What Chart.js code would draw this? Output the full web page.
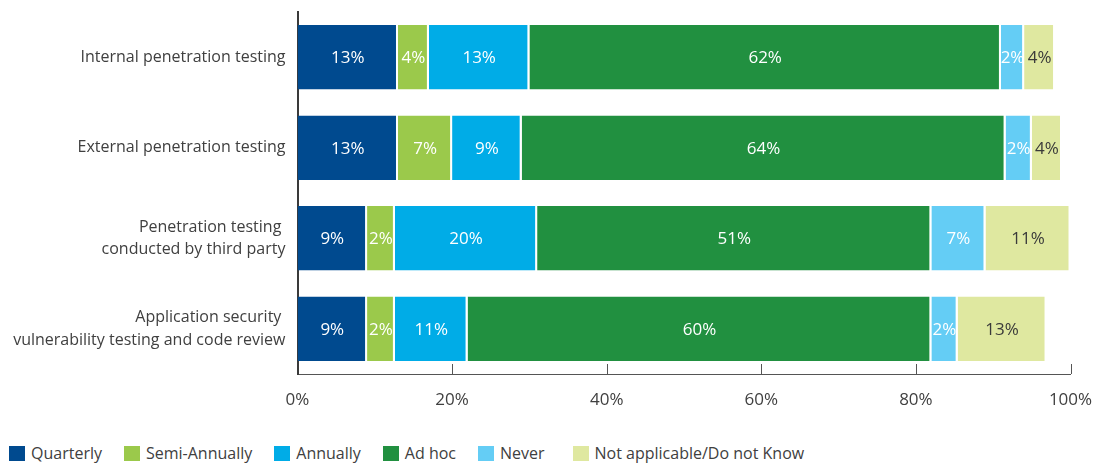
<!DOCTYPE html>
<html>
<head>
<meta charset="utf-8">
<script src="https://cdn.jsdelivr.net/npm/chart.js@4.4.1/dist/chart.umd.min.js"></script>
<style>
    html, body { margin: 0; padding: 0; background: #fff; }
    #wrap { position: relative; width: 1094px; height: 430px; }
    #legend {
        display: flex; align-items: center; gap: 22px;
        padding-left: 9px; margin-top: 12px;
        font: 16px "Open Sans", sans-serif; color: #404040;
    }
    #legend span.item { display: flex; align-items: center; }
    #legend span.item:last-child { margin-left: 6px; }
    #legend i { display: inline-block; width: 16px; height: 15px; margin-right: 6px; }
</style>
</head>
<body>
<div id="wrap"><canvas id="chart"></canvas></div>
<div id="legend"></div>
<script>
// ── Données ──────────────────────────────────────────────
const categories = [
    'Internal penetration testing',
    'External penetration testing',
    ['Penetration testing ', 'conducted by third party'],
    ['Application security ', 'vulnerability testing and code review']
];
const seriesNames = ['Quarterly', 'Semi-Annually', 'Annually', 'Ad hoc', 'Never', 'Not applicable/Do not Know'];
const seriesColors = ['#004a8f', '#9bc94b', '#00ace7', '#219040', '#64cdf5', '#dfe8a0'];

// bar lengths as drawn
const quarterly     = [13, 13, 9, 9];
const semiAnnually  = [4, 7, 3.6, 3.6];
const annually      = [13, 9, 18.4, 9.4];
const adHoc         = [61, 62.6, 51, 60];
const never         = [3, 3.4, 7, 3.4];
const notApplicable = [4, 3.9, 11, 11.5];

// percentages printed in the bars
const quarterlyPct     = [13, 13, 9, 9];
const semiAnnuallyPct  = [4, 7, 2, 2];
const annuallyPct      = [13, 9, 20, 11];
const adHocPct         = [62, 64, 51, 60];
const neverPct         = [2, 2, 7, 2];
const notApplicablePct = [4, 4, 11, 13];

const xTicks = [0, 20, 40, 60, 80, 100];

const seriesValues = [quarterly, semiAnnually, annually, adHoc, never, notApplicable];
const seriesPct = [quarterlyPct, semiAnnuallyPct, annuallyPct, adHocPct, neverPct, notApplicablePct];
const labelColors = ['#fff', '#fff', '#fff', '#fff', '#fff', '#3a3a3a'];

const FONT = '"Open Sans", sans-serif';

// ── Libellés dans les barres ─────────────────────────────
const barLabels = {
    id: 'barLabels',
    afterDatasetsDraw(chart) {
        const ctx = chart.ctx;
        ctx.save();
        ctx.font = '17px ' + FONT;
        ctx.textAlign = 'center';
        ctx.textBaseline = 'middle';
        chart.data.datasets.forEach((ds, i) => {
            chart.getDatasetMeta(i).data.forEach((bar, j) => {
                ctx.fillStyle = labelColors[i];
                ctx.fillText(seriesPct[i][j] + '%', (bar.x + bar.base) / 2, bar.y + 1);
            });
        });
        ctx.restore();
    }
};

// ── Petites graduations vers l'intérieur ─────────────────
const innerTicks = {
    id: 'innerTicks',
    afterDraw(chart) {
        const ctx = chart.ctx, sx = chart.scales.x, bottom = chart.chartArea.bottom;
        ctx.save();
        ctx.strokeStyle = '#555';
        ctx.lineWidth = 1;
        xTicks.slice(1).forEach(v => {
            const px = Math.round(sx.getPixelForValue(v)) + 0.5;
            ctx.beginPath();
            ctx.moveTo(px, bottom - 10);
            ctx.lineTo(px, bottom);
            ctx.stroke();
        });
        ctx.restore();
    }
};

new Chart(document.getElementById('chart'), {
    type: 'bar',
    data: {
        labels: categories,
        datasets: seriesNames.map((name, i) => ({
            label: name,
            data: seriesValues[i],
            backgroundColor: seriesColors[i],
            borderColor: '#ffffff',
            borderWidth: { left: 0, right: 2, top: 0, bottom: 0 },
            borderSkipped: false,
            barPercentage: 0.71,
            categoryPercentage: 1
        }))
    },
    options: {
        indexAxis: 'y',
        responsive: true,
        maintainAspectRatio: false,
        animation: false,
        layout: { padding: { top: 12, right: 23.5, left: 0, bottom: 0 } },
        plugins: { legend: { display: false }, tooltip: { enabled: false } },
        scales: {
            x: {
                stacked: true,
                min: 0, max: 100,
                afterBuildTicks: s => { s.ticks = xTicks.map(v => ({ value: v })); },
                afterFit: s => { s.height = 56; s.paddingLeft = 0; s.paddingRight = 0; },
                grid: { display: false, drawTicks: false },
                border: { color: '#555', width: 1 },
                ticks: { padding: 16, color: '#404040', font: { family: FONT, size: 17 }, callback: v => v + '%' }
            },
            y: {
                stacked: true,
                afterFit: s => { s.width = 297.5; s.paddingTop = 0; s.paddingBottom = 0; },
                grid: { display: false, drawTicks: false },
                border: { color: '#3a3a3a', width: 2 },
                ticks: { padding: 12, color: '#404040', font: { family: FONT, size: 16, lineHeight: 1.4 } }
            }
        }
    },
    plugins: [barLabels, innerTicks]
});

// ── Légende ──────────────────────────────────────────────
document.getElementById('legend').innerHTML = seriesNames.map((n, i) =>
    `<span class="item"><i style="background:${seriesColors[i]}"></i>${n}</span>`).join('');
</script>
</body>
</html>
